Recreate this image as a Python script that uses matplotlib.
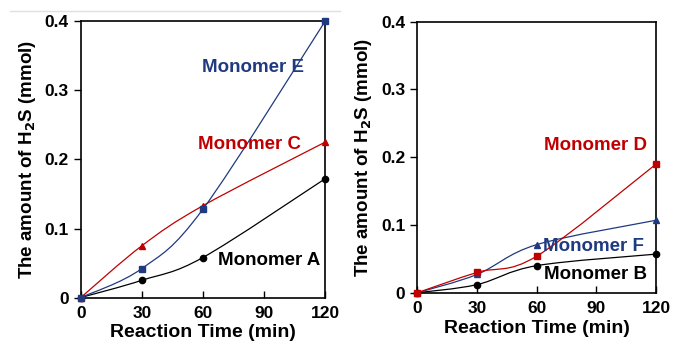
import matplotlib
matplotlib.use('Agg')
import matplotlib.pyplot as plt
from matplotlib.path import Path
from matplotlib.patches import PathPatch
from matplotlib.lines import Line2D

plt.rcParams['font.family'] = ['Liberation Sans', 'DejaVu Sans']
plt.rcParams['font.weight'] = 'bold'

# reaction time (min)
time = [0, 30, 60, 120]

# left panel
mono_a = [0, 0.025, 0.058, 0.172]
mono_c = [0, 0.075, 0.133, 0.225]
mono_e = [0, 0.042, 0.128, 0.400]

# right panel
mono_b = [0, 0.012, 0.040, 0.057]
mono_d = [0, 0.030, 0.054, 0.190]
mono_f = [0, 0.027, 0.071, 0.107]

BLUE = '#1f3a80'
RED = '#c00000'
BLACK = '#000000'


def smooth_line(ax, xs, ys, color):
    # excel-like smoothed line: catmull-rom segments as cubic beziers
    pts = list(zip(xs, ys))
    n = len(pts)
    verts = [pts[0]]
    codes = [Path.MOVETO]
    for i in range(n - 1):
        p0 = pts[i - 1] if i > 0 else pts[i]
        p1 = pts[i]
        p2 = pts[i + 1]
        p3 = pts[i + 2] if i + 2 < n else pts[i + 1]
        c1 = (p1[0] + (p2[0] - p0[0]) / 6, p1[1] + (p2[1] - p0[1]) / 6)
        c2 = (p2[0] - (p3[0] - p1[0]) / 6, p2[1] - (p3[1] - p1[1]) / 6)
        verts += [c1, c2, p2]
        codes += [Path.CURVE4] * 3
    ax.add_patch(PathPatch(Path(verts, codes), facecolor='none', edgecolor=color, lw=0.9))


def style_axes(ax):
    ax.set_xlim(0, 120)
    ax.set_ylim(0, 0.4)
    ax.set_xticks([0, 30, 60, 90, 120])
    ax.set_xticklabels(['0', '30', '60', '90', '120'])
    ax.set_yticks([0, 0.1, 0.2, 0.3, 0.4])
    ax.set_yticklabels(['0', '0.1', '0.2', '0.3', '0.4'])
    ax.tick_params(axis='x', direction='in', length=5, width=1, labelsize=12.5, pad=6)
    ax.tick_params(axis='y', direction='out', length=5, width=1, labelsize=12.5)
    for s in ax.spines.values():
        s.set_linewidth(1.2)
    ax.set_xlabel('Reaction Time (min)', fontsize=14, fontweight='bold', labelpad=2.5)
    ax.set_ylabel('The amount of H$_\\mathbf{2}$S (mmol)', fontsize=13.5, fontweight='bold', labelpad=5)


fig = plt.figure(figsize=(6.73, 3.44), dpi=100)
ax1 = fig.add_axes([0.120, 0.135, 0.363, 0.803])
ax2 = fig.add_axes([0.620, 0.149, 0.355, 0.788])

# left
for ys, col, mk, ms in [(mono_a, BLACK, 'o', 4.5), (mono_c, RED, '^', 4.5), (mono_e, BLUE, 's', 5)]:
    smooth_line(ax1, time, ys, col)
    ax1.plot(time, ys, ls='none', marker=mk, color=col, ms=ms, clip_on=False, zorder=3)
ax1.text(84.5, 0.333, 'Monomer E', color=BLUE, fontsize=13.5, fontweight='bold', ha='center', va='center')
ax1.text(83, 0.222, 'Monomer C', color=RED, fontsize=13.5, fontweight='bold', ha='center', va='center')
ax1.text(92.5, 0.053, 'Monomer A', color=BLACK, fontsize=13.5, fontweight='bold', ha='center', va='center')
style_axes(ax1)

# right
for ys, col, mk, ms in [(mono_b, BLACK, 'o', 4.5), (mono_f, BLUE, '^', 4.5), (mono_d, RED, 's', 5)]:
    smooth_line(ax2, time, ys, col)
    ax2.plot(time, ys, ls='none', marker=mk, color=col, ms=ms, clip_on=False, zorder=3)
ax2.text(89.7, 0.218, 'Monomer D', color=RED, fontsize=13.5, fontweight='bold', ha='center', va='center')
ax2.text(88.7, 0.068, 'Monomer F', color=BLUE, fontsize=13.5, fontweight='bold', ha='center', va='center')
ax2.text(89.6, 0.027, 'Monomer B', color=BLACK, fontsize=13.5, fontweight='bold', ha='center', va='center')
style_axes(ax2)

# faint rule above the left panel
fig.add_artist(Line2D([0.015, 0.505], [0.969, 0.969], color='#e0e0e0', lw=1))

fig.savefig('out.png', dpi=100)
